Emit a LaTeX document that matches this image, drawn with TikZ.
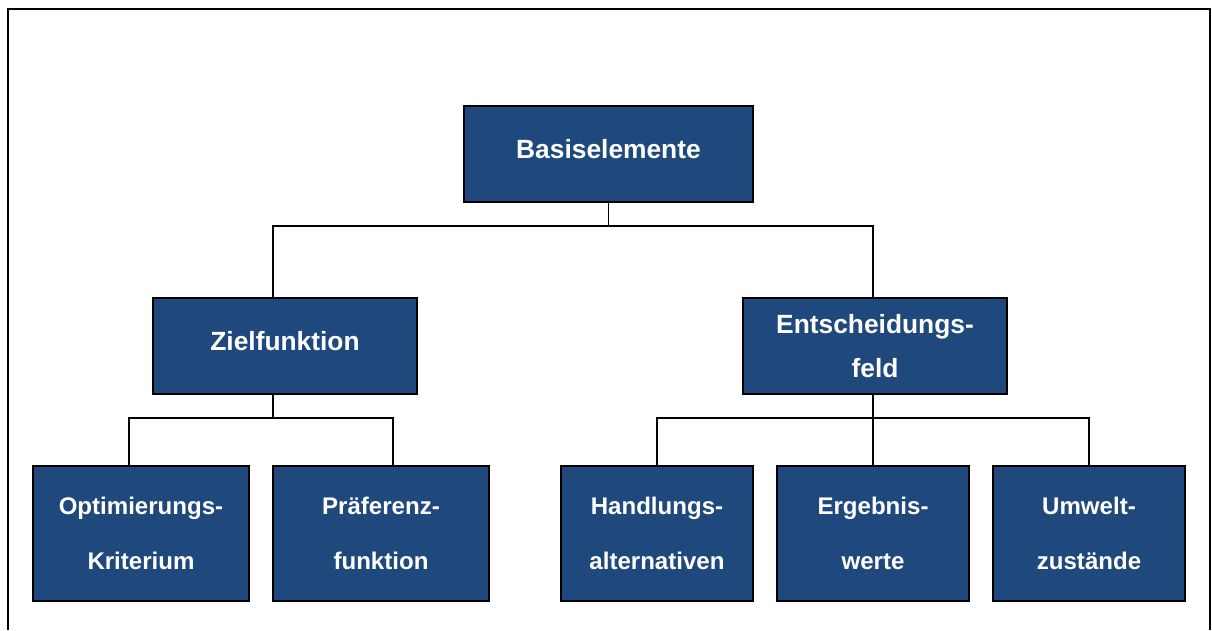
\documentclass[tikz,border=0pt]{standalone}
\usepackage{fontspec}
\setmainfont{Liberation Sans}
\usetikzlibrary{positioning}

\definecolor{boxblue}{RGB}{31,73,125}

\begin{document}
\begin{tikzpicture}[
      x=0.02cm, y=-0.02cm,
      box/.style={rectangle, draw=black, line width=1.1pt, fill=boxblue, text=white,
        font=\bfseries\fontsize{15}{25.5}\selectfont, align=center, inner sep=0pt},
      rootbox/.style={box, minimum width=5.78cm, minimum height=1.92cm, text depth=5.6pt},
      midbox/.style={box, minimum width=5.28cm, minimum height=1.92cm},
      leafbox/.style={box, minimum width=3.84cm, minimum height=2.7cm,
        font=\bfseries\fontsize{13.7}{31}\selectfont},
      link/.style={draw=black, line width=0.8pt}
    ]
      \useasboundingbox (0,0) rectangle (1212,630);
      % frame
      \draw[line width=1.1pt] (8,630) -- (8,9) -- (1210,9) -- (1210,630);

      % nodes
      \node[rootbox] (root) at (608.5,154) {Basiselemente};
      \node[midbox, text depth=5.6pt] (ziel) at (285,346) {Zielfunktion};
      \node[midbox] (feld) at (875,346) {Entscheidungs-\\feld};
      \node[leafbox, minimum width=4.32cm] (opt) at (141,533.5) {Optimierungs-\\Kriterium};
      \node[leafbox, minimum width=4.32cm] (praef) at (381,533.5) {Präferenz-\\funktion};
      \node[leafbox] (hand) at (657,533.5) {Handlungs-\\alternativen};
      \node[leafbox] (erg) at (873,533.5) {Ergebnis-\\werte};
      \node[leafbox] (umw) at (1089,533.5) {Umwelt-\\zustände};

      % connectors
      \coordinate (rbus) at (608.5,226);
      \coordinate (zbus) at (273,418);
      \coordinate (fbus) at (873,418);
      \draw[link] (root.south) -- (rbus);
      \draw[link] (ziel.north -| zbus) |- (rbus) -| (feld.north -| fbus);
      \draw[link] (ziel.south -| zbus) -- (zbus);
      \draw[link] (opt.north -| 129,0) |- (zbus) -| (praef.north -| 393,0);
      \draw[link] (feld.south -| fbus) -- (erg.north);
      \draw[link] (hand.north) |- (fbus) -| (umw.north);
    \end{tikzpicture}
\end{document}
